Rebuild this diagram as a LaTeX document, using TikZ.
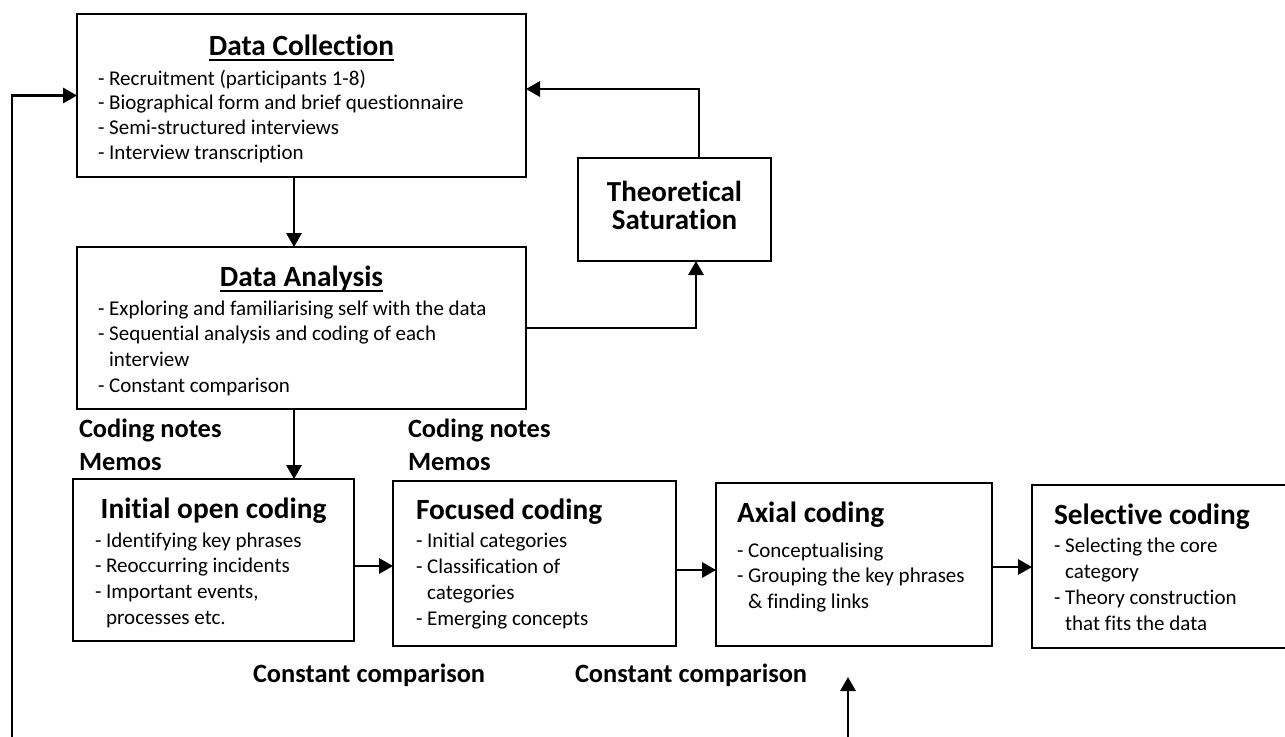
\documentclass[tikz,border=0pt]{standalone}
\usepackage{fontspec}
\setmainfont{Carlito}[Ligatures={NoCommon}]
\usetikzlibrary{arrows.meta,fit,calc}

% underlined box heading
\newcommand\headline[1]{\setbox0\hbox{#1}\rlap{\rule[-4.5pt]{\wd0}{1.5pt}}\box0}
% list of lines with a given line distance
\newcommand\itemlines[2]{\fontsize{15.75pt}{#1}\selectfont\begin{tabular}[t]{@{}l@{}}#2\end{tabular}}
\newcommand\headfont{\bfseries\fontsize{22pt}{26pt}\selectfont}
\newcommand\labelfont{\bfseries\fontsize{19.8pt}{24.75pt}\selectfont}
\newcommand\cont{\phantom{- }}

\begin{document}
\begin{tikzpicture}[x=0.75pt,y=-0.75pt,
  box/.style={draw, line width=1.9pt, inner sep=0pt, outer sep=0pt},
  txt/.style={inner sep=0pt, outer sep=0pt, anchor=base west},
  ctxt/.style={inner sep=0pt, outer sep=0pt, anchor=base},
  arr/.style={line width=1.7pt, -{Triangle[length=10.5pt,width=11.5pt]}}]
\useasboundingbox (0,0) rectangle (1285,736);

% ---- boxes ----
\node[box, fit={(77,14) (526,177)}] (dc) {};
\node[box, fit={(77,247) (526,409)}] (da) {};
\node[box, fit={(578,158) (771,261)}] (ts) {};
\node[box, fit={(73,479) (354,641)}] (ioc) {};
\node[box, fit={(393,481) (676,646)}] (fc) {};
\node[box, fit={(716,483) (992,646)}] (ac) {};
\node[box, fit={(1032,485) (1296,648)}] (sc) {};

% ---- Data Collection ----
\node[ctxt] (dchead) at (301.5,55) {\headfont\headline{Data Collection}};
\node[txt] (dcbody) at (98,85) {\itemlines{18.5pt}{%
  - Recruitment (participants 1-8)\\
  - Biographical form and brief questionnaire\\
  - Semi-structured interviews\\
  - Interview transcription}};

% ---- Data Analysis ----
\node[ctxt] (dahead) at (301.5,286) {\headfont\headline{Data Analysis}};
\node[txt] (dabody) at (98,315) {\itemlines{19.4pt}{%
  - Exploring and familiarising self with the data\\
  - Sequential analysis and coding of each\\
  \cont interview\\
  - Constant comparison}};

% ---- Theoretical Saturation ----
\node[ctxt] (tstext) at (674.5,201) {\bfseries\fontsize{21.75pt}{21pt}\selectfont
  \begin{tabular}[t]{@{}c@{}}Theoretical\\Saturation\end{tabular}};

% ---- coding stages ----
\node[ctxt] (iochead) at (213.5,518) {\headfont Initial open coding};
\node[txt] (iocbody) at (95,547) {\itemlines{19.3pt}{%
  - Identifying key phrases\\
  - Reoccurring incidents\\
  - Important events,\\
  \cont processes etc.}};

\node[txt] (fchead) at (416,519) {\headfont Focused coding};
\node[txt] (fcbody) at (416,547) {\itemlines{19.6pt}{%
  - Initial categories\\
  - Classification of\\
  \cont categories\\
  - Emerging concepts}};

\node[txt] (achead) at (737,522) {\headfont Axial coding};
\node[txt] (acbody) at (737,557) {\itemlines{19.2pt}{%
  - Conceptualising\\
  - Grouping the key phrases\\
  \cont \& finding links}};

\node[txt] (schead) at (1054,524) {\headfont Selective coding};
\node[txt] (scbody) at (1054,552) {\itemlines{19.5pt}{%
  - Selecting the core\\
  \cont category\\
  - Theory construction\\
  \cont that fits the data}};

% ---- free labels ----
\node[txt] (notesA) at (79,437) {\labelfont\begin{tabular}[t]{@{}l@{}}Coding notes\\Memos\end{tabular}};
\node[txt] (notesB) at (408,437) {\labelfont\begin{tabular}[t]{@{}l@{}}Coding notes\\Memos\end{tabular}};
\node[txt] (cmpA) at (253,682) {\labelfont Constant comparison};
\node[txt] (cmpB) at (575,682) {\labelfont Constant comparison};

% ---- connectors ----
\coordinate (dcOut) at ($(dc.south)+(-7.5,0)$);
\draw[arr] (dcOut) -- (dcOut |- da.north);

\coordinate (daOut) at ($(da.south)+(-7.5,0)$);
\draw[arr] (daOut) -- (daOut |- ioc.north);

\coordinate (tsIn) at ($(ts.south)+(21.5,0)$);
\draw[arr] (da.east) -| (tsIn);

\coordinate (tsOut) at ($(ts.north)+(24.5,0)$);
\coordinate (dcIn) at ($(dc.east)+(0,-6.5)$);
\draw[arr] (tsOut) |- (dcIn);

\coordinate (loopL) at (12,745);
\draw[arr] (loopL) |- (dc.west);

\coordinate (iocOut) at ($(ioc.east)+(0,6)$);
\draw[arr] (iocOut) -- (iocOut -| fc.west);
\coordinate (fcOut) at ($(fc.east)+(0,6.5)$);
\draw[arr] (fcOut) -- (fcOut -| ac.west);
\coordinate (acOut) at ($(ac.east)+(0,2.5)$);
\draw[arr] (acOut) -- (acOut -| sc.west);

\coordinate (loopR) at (848,745);
\coordinate (loopTip) at (848,677);
\draw[arr] (loopR) -- (loopTip);
\end{tikzpicture}
\end{document}
